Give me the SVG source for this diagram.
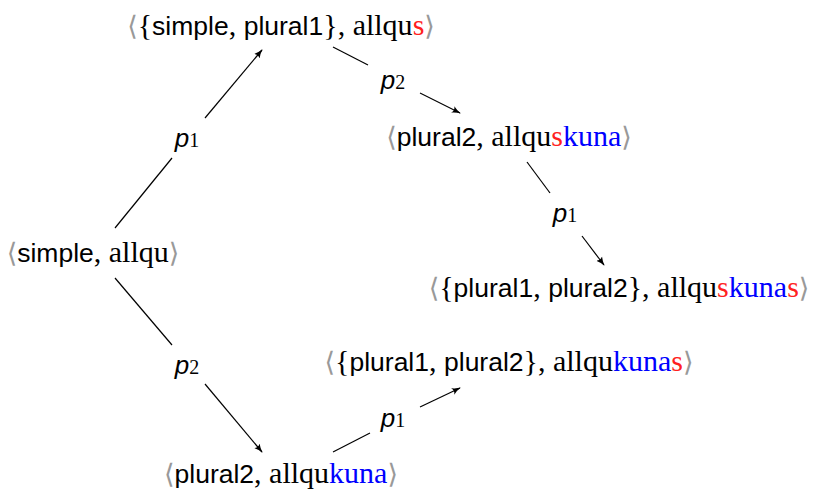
<svg xmlns="http://www.w3.org/2000/svg" width="818" height="492" viewBox="0 0 818 492">
<defs>
<marker id="ah" viewBox="0 0 10 10" refX="9" refY="5" markerWidth="9" markerHeight="9" markerUnits="userSpaceOnUse" orient="auto">
<path d="M0,1 Q5,4 10,5 Q5,6 0,9 Q3,5 0,1 Z" fill="#000"/>
</marker>
</defs>
<style>
text{font-family:"Liberation Serif","DejaVu Serif",serif;font-size:30px;fill:#000}
.ss{font-family:"Liberation Sans","DejaVu Sans",sans-serif;font-size:26.5px}
.br{fill:#999;font-family:"DejaVu Serif",serif;font-size:27px}
.r{fill:#ff2020}
.b{fill:#0000ff}
.p{font-family:"Liberation Sans","DejaVu Sans",sans-serif;font-style:italic;font-size:26px}
.sub{font-size:20px}
.e{stroke:#000;stroke-width:1.2;fill:none}
</style>
<g id="connectors">
<line class="e" x1="115" y1="228" x2="172" y2="158"/>
<line class="e" x1="205" y1="118" x2="262" y2="50" marker-end="url(#ah)"/>
<text x="187" y="147" text-anchor="middle"><tspan class="p">p</tspan><tspan class="sub">1</tspan></text>
<line class="e" x1="333" y1="47" x2="368" y2="65"/>
<line class="e" x1="420" y1="93" x2="460" y2="113" marker-end="url(#ah)"/>
<text x="393" y="89" text-anchor="middle"><tspan class="p">p</tspan><tspan class="sub">2</tspan></text>
<line class="e" x1="527" y1="162" x2="550" y2="193"/>
<line class="e" x1="582" y1="236" x2="604" y2="265" marker-end="url(#ah)"/>
<text x="565" y="222" text-anchor="middle"><tspan class="p">p</tspan><tspan class="sub">1</tspan></text>
<line class="e" x1="115" y1="278" x2="172" y2="345"/>
<line class="e" x1="205" y1="384" x2="262" y2="452" marker-end="url(#ah)"/>
<text x="187" y="374" text-anchor="middle"><tspan class="p">p</tspan><tspan class="sub">2</tspan></text>
<line class="e" x1="333" y1="452" x2="370" y2="433"/>
<line class="e" x1="420" y1="407" x2="460" y2="388" marker-end="url(#ah)"/>
<text x="393" y="427" text-anchor="middle"><tspan class="p">p</tspan><tspan class="sub">1</tspan></text>
</g>
<g id="n0">
<text x="93" y="262" text-anchor="middle"><tspan class="br">⟨</tspan><tspan class="ss">simple</tspan>, allqu<tspan class="br">⟩</tspan></text>
</g>
<g id="n1">
<text x="281" y="35" text-anchor="middle"><tspan class="br">⟨</tspan>{<tspan class="ss">simple</tspan>, <tspan class="ss">plural1</tspan>}, allqu<tspan class="r">s</tspan><tspan class="br">⟩</tspan></text>
</g>
<g id="n2">
<text x="509" y="146" text-anchor="middle"><tspan class="br">⟨</tspan><tspan class="ss">plural2</tspan>, allqu<tspan class="r">s</tspan><tspan class="b">kuna</tspan><tspan class="br">⟩</tspan></text>
</g>
<g id="n3">
<text x="619" y="297" text-anchor="middle"><tspan class="br">⟨</tspan>{<tspan class="ss">plural1</tspan>, <tspan class="ss">plural2</tspan>}, allqu<tspan class="r">s</tspan><tspan class="b">kuna</tspan><tspan class="r">s</tspan><tspan class="br">⟩</tspan></text>
</g>
<g id="n4">
<text x="509" y="371" text-anchor="middle"><tspan class="br">⟨</tspan>{<tspan class="ss">plural1</tspan>, <tspan class="ss">plural2</tspan>}, allqu<tspan class="b">kuna</tspan><tspan class="r">s</tspan><tspan class="br">⟩</tspan></text>
</g>
<g id="n5">
<text x="281" y="483" text-anchor="middle"><tspan class="br">⟨</tspan><tspan class="ss">plural2</tspan>, allqu<tspan class="b">kuna</tspan><tspan class="br">⟩</tspan></text>
</g>
</svg>
